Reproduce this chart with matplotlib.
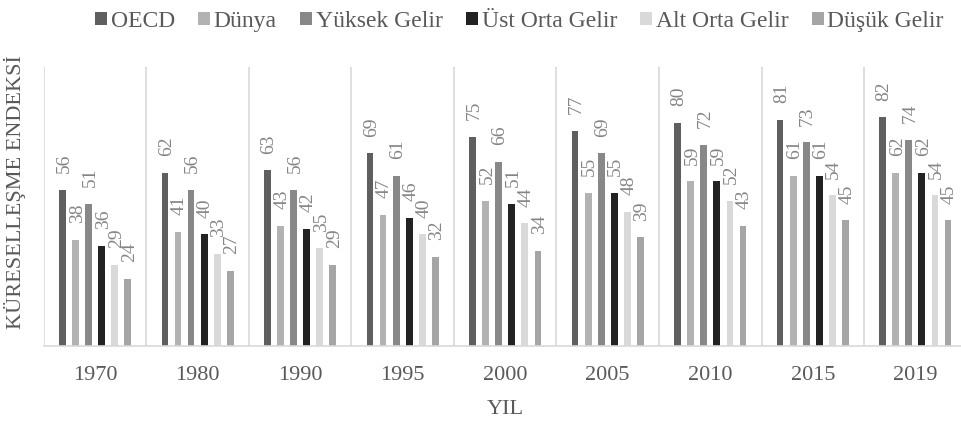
import matplotlib.pyplot as plt
import numpy as np

plt.rcParams['font.family'] = ['Liberation Serif', 'DejaVu Serif']

years = ['1970', '1980', '1990', '1995', '2000', '2005', '2010', '2015', '2019']
groups = ['OECD', 'Dünya', 'Yüksek Gelir', 'Üst Orta Gelir', 'Alt Orta Gelir', 'Düşük Gelir']
colors = ['#5f5f5f', '#b2b2b2', '#888888', '#222222', '#d9d9d9', '#a5a5a5']

oecd = [56, 62, 63, 69, 75, 77, 80, 81, 82]
dunya = [38, 41, 43, 47, 52, 55, 59, 61, 62]
yuksek = [51, 56, 56, 61, 66, 69, 72, 73, 74]
ust_orta = [36, 40, 42, 46, 51, 55, 59, 61, 62]
alt_orta = [29, 33, 35, 40, 44, 48, 52, 54, 54]
dusuk = [24, 27, 29, 32, 34, 39, 43, 45, 45]
series = [oecd, dunya, yuksek, ust_orta, alt_orta, dusuk]

fig = plt.figure(figsize=(9.62, 4.21), dpi=100)
ax = fig.add_axes([0.0457, 0.178, 0.959, 0.663])

x = np.arange(len(years))
pitch = 0.127
width = 0.064
for i, (name, vals, c) in enumerate(zip(groups, series, colors)):
    pos = x + (i - 2.5) * pitch
    ax.bar(pos, vals, width, color=c, label=name, zorder=2)
    for p, v in zip(pos, vals):
        ax.annotate(str(v), (p, v), xytext=(1, 12), textcoords='offset points',
                    rotation=90, ha='center', va='bottom', fontsize=14,
                    color='#858585')

ax.set_xlim(-0.5, len(years) - 0.5)
ax.set_ylim(0, 100)
ax.set_yticks([])
ax.set_xticks(x)
ax.set_xticklabels(years, fontsize=16, color='#595959')
ax.tick_params(axis='x', length=0, pad=14)
for b in np.arange(-0.5, len(years), 1):
    ax.axvline(b, color='#d9d9d9', lw=1.2, zorder=1)
for s in ['top', 'right', 'left']:
    ax.spines[s].set_visible(False)
ax.spines['bottom'].set_color('#d9d9d9')
ax.spines['bottom'].set_linewidth(1.2)

ax.set_xlabel('YIL', fontsize=16, color='#595959', labelpad=11)
ax.set_ylabel('KÜRESELLEŞME ENDEKSİ', fontsize=16, color='#595959')
ax.yaxis.set_label_coords(-0.02, 0.55)

fig.legend(loc='upper center', bbox_to_anchor=(0.54, 1.025), ncol=6, frameon=False,
           fontsize=17, handlelength=0.5, handleheight=0.5, handletextpad=0.15,
           columnspacing=1.0, labelcolor='#595959')

fig.savefig('out.png', dpi=100)
